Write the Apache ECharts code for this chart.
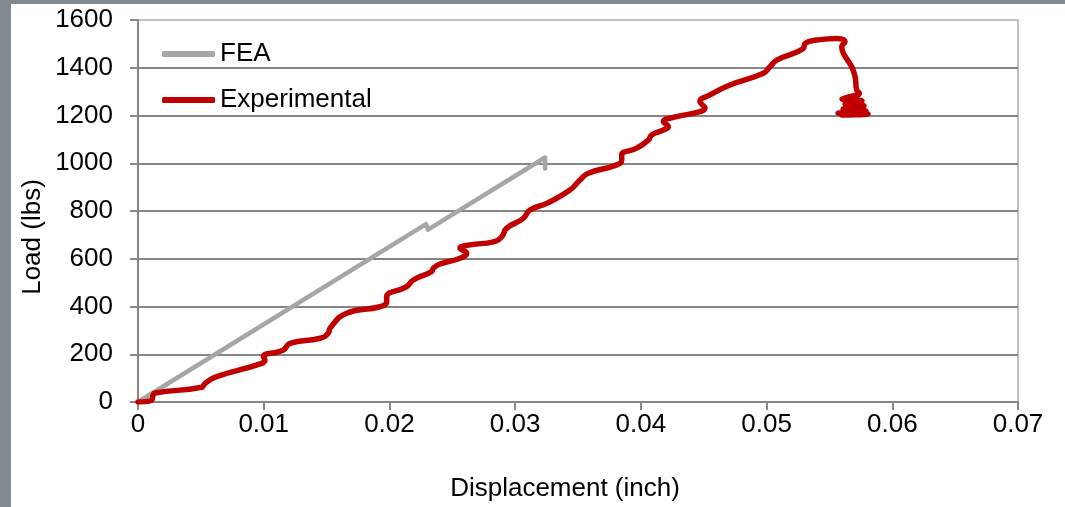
<!DOCTYPE html>
<html>
<head>
<meta charset="utf-8">
<script src="https://cdn.jsdelivr.net/npm/echarts@6/dist/echarts.min.js"></script>
<style>
  html, body { margin: 0; padding: 0; width: 1065px; height: 507px; background: #7f8a91; overflow: hidden; }
  #paper { position: absolute; left: 11px; top: 4px; right: 0; bottom: 0; background: #ffffff; }
  #chart { position: absolute; left: 0; top: 0; width: 1065px; height: 507px; }
</style>
</head>
<body>
<div id="paper"></div>
<div id="chart"></div>
<script>
// FEA series
const feaX = [0, 0.02291, 0.02307, 0.03238, 0.03238];
const feaY = [0, 745, 722, 1024, 978];

// Experimental series
const expX = [0, 0.0011, 0.0012, 0.00135, 0.00507, 0.00533, 0.00626, 0.00984, 0.0101, 0.00997,
  0.01156, 0.01209, 0.01448, 0.01514, 0.01527, 0.0166, 0.01925, 0.01978, 0.01978, 0.02137,
  0.0219, 0.02336, 0.02349, 0.02402, 0.02561, 0.02615, 0.02561, 0.02641, 0.02826, 0.02893,
  0.02933, 0.03065, 0.03118, 0.03251, 0.03436, 0.03516, 0.03582, 0.03808, 0.03848, 0.03848,
  0.03967, 0.04059, 0.04086, 0.04179, 0.04218, 0.04179, 0.04258, 0.0447, 0.0451, 0.0447,
  0.0455, 0.04709, 0.04974, 0.05027, 0.05081, 0.05292, 0.05306, 0.05399, 0.05558, 0.05624,
  0.05598, 0.05611, 0.05677, 0.05704, 0.05717, 0.05738, 0.05648, 0.056, 0.05759, 0.05624,
  0.05775, 0.05608, 0.05791, 0.05569, 0.05807, 0.056, 0.05704];
const expY = [0, 8, 29, 38, 62, 78, 106, 162, 176, 190,
  218, 246, 267, 288, 309, 372, 399, 420, 441, 483,
  511, 546, 560, 578, 602, 623, 644, 658, 671, 692,
  728, 769, 804, 832, 888, 930, 958, 993, 1014, 1035,
  1063, 1097, 1118, 1139, 1153, 1174, 1192, 1216, 1230, 1258,
  1286, 1328, 1377, 1404, 1432, 1481, 1502, 1516, 1523, 1509,
  1488, 1461, 1404, 1363, 1307, 1293, 1277, 1269, 1261, 1248,
  1240, 1227, 1219, 1210, 1206, 1202, 1206];

const seriesNames = ['FEA', 'Experimental'];
const seriesColors = ['#a6a6a6', '#c00000'];

const xMin = 0, xMax = 0.07, xStep = 0.01;
const yMin = 0, yMax = 1600, yStep = 200;

const zip = (xs, ys) => xs.map((x, i) => [x, ys[i]]);
const FONT = '"Liberation Sans", Arial, sans-serif';

const chart = echarts.init(document.getElementById('chart'), null, { renderer: 'canvas' });
chart.setOption({
  backgroundColor: 'transparent',
  animation: false,
  grid: {
    left: 138, top: 20, right: 47, bottom: 105,
    show: true, borderColor: '#c0c0c0', borderWidth: 2, backgroundColor: 'transparent'
  },
  legend: {
    orient: 'vertical',
    left: 157, top: 36,
    itemWidth: 53, itemHeight: 6, itemGap: 20,
    textStyle: { fontFamily: FONT, fontSize: 26, color: '#000' },
    data: seriesNames.map(n => ({ name: n, icon: 'roundRect' }))
  },
  xAxis: {
    type: 'value', min: xMin, max: xMax, interval: xStep,
    axisLine: { show: true, onZero: false, lineStyle: { color: '#868686', width: 2 } },
    axisTick: { show: true, inside: false, length: 8, lineStyle: { color: '#868686', width: 2 } },
    axisLabel: { fontFamily: FONT, fontSize: 26, color: '#000', margin: 10,
      formatter: v => (Math.round(v * 100) / 100).toString() },
    splitLine: { show: false }
  },
  yAxis: {
    type: 'value', min: yMin, max: yMax, interval: yStep,
    axisLine: { show: true, lineStyle: { color: '#868686', width: 2 } },
    axisTick: { show: true, inside: false, length: 8, lineStyle: { color: '#868686', width: 2 } },
    axisLabel: { fontFamily: FONT, fontSize: 26, color: '#000', margin: 25,
      formatter: v => String(Math.round(v)) },
    splitLine: { show: true, showMaxLine: false, lineStyle: { color: '#868686', width: 2 } }
  },
  graphic: [
    { type: 'text', x: 33, y: 237, rotation: Math.PI / 2,
      style: { text: 'Load (lbs)', font: '26px ' + FONT, fill: '#000', textAlign: 'center', textVerticalAlign: 'middle' } },
    { type: 'text', x: 565, y: 489,
      style: { text: 'Displacement (inch)', font: '26px ' + FONT, fill: '#000', textAlign: 'center', textVerticalAlign: 'middle' } }
  ],
  series: [
    { name: seriesNames[0], type: 'line', data: zip(feaX, feaY), showSymbol: false, symbol: 'none',
      lineStyle: { color: seriesColors[0], width: 4.5, cap: 'round', join: 'round' },
      itemStyle: { color: seriesColors[0] }, z: 3 },
    { name: seriesNames[1], type: 'line', data: zip(expX, expY), showSymbol: false, symbol: 'none',
      smooth: 0.5,
      lineStyle: { color: seriesColors[1], width: 5.5, cap: 'round', join: 'round' },
      itemStyle: { color: seriesColors[1] }, z: 4 }
  ]
});
</script>
</body>
</html>
